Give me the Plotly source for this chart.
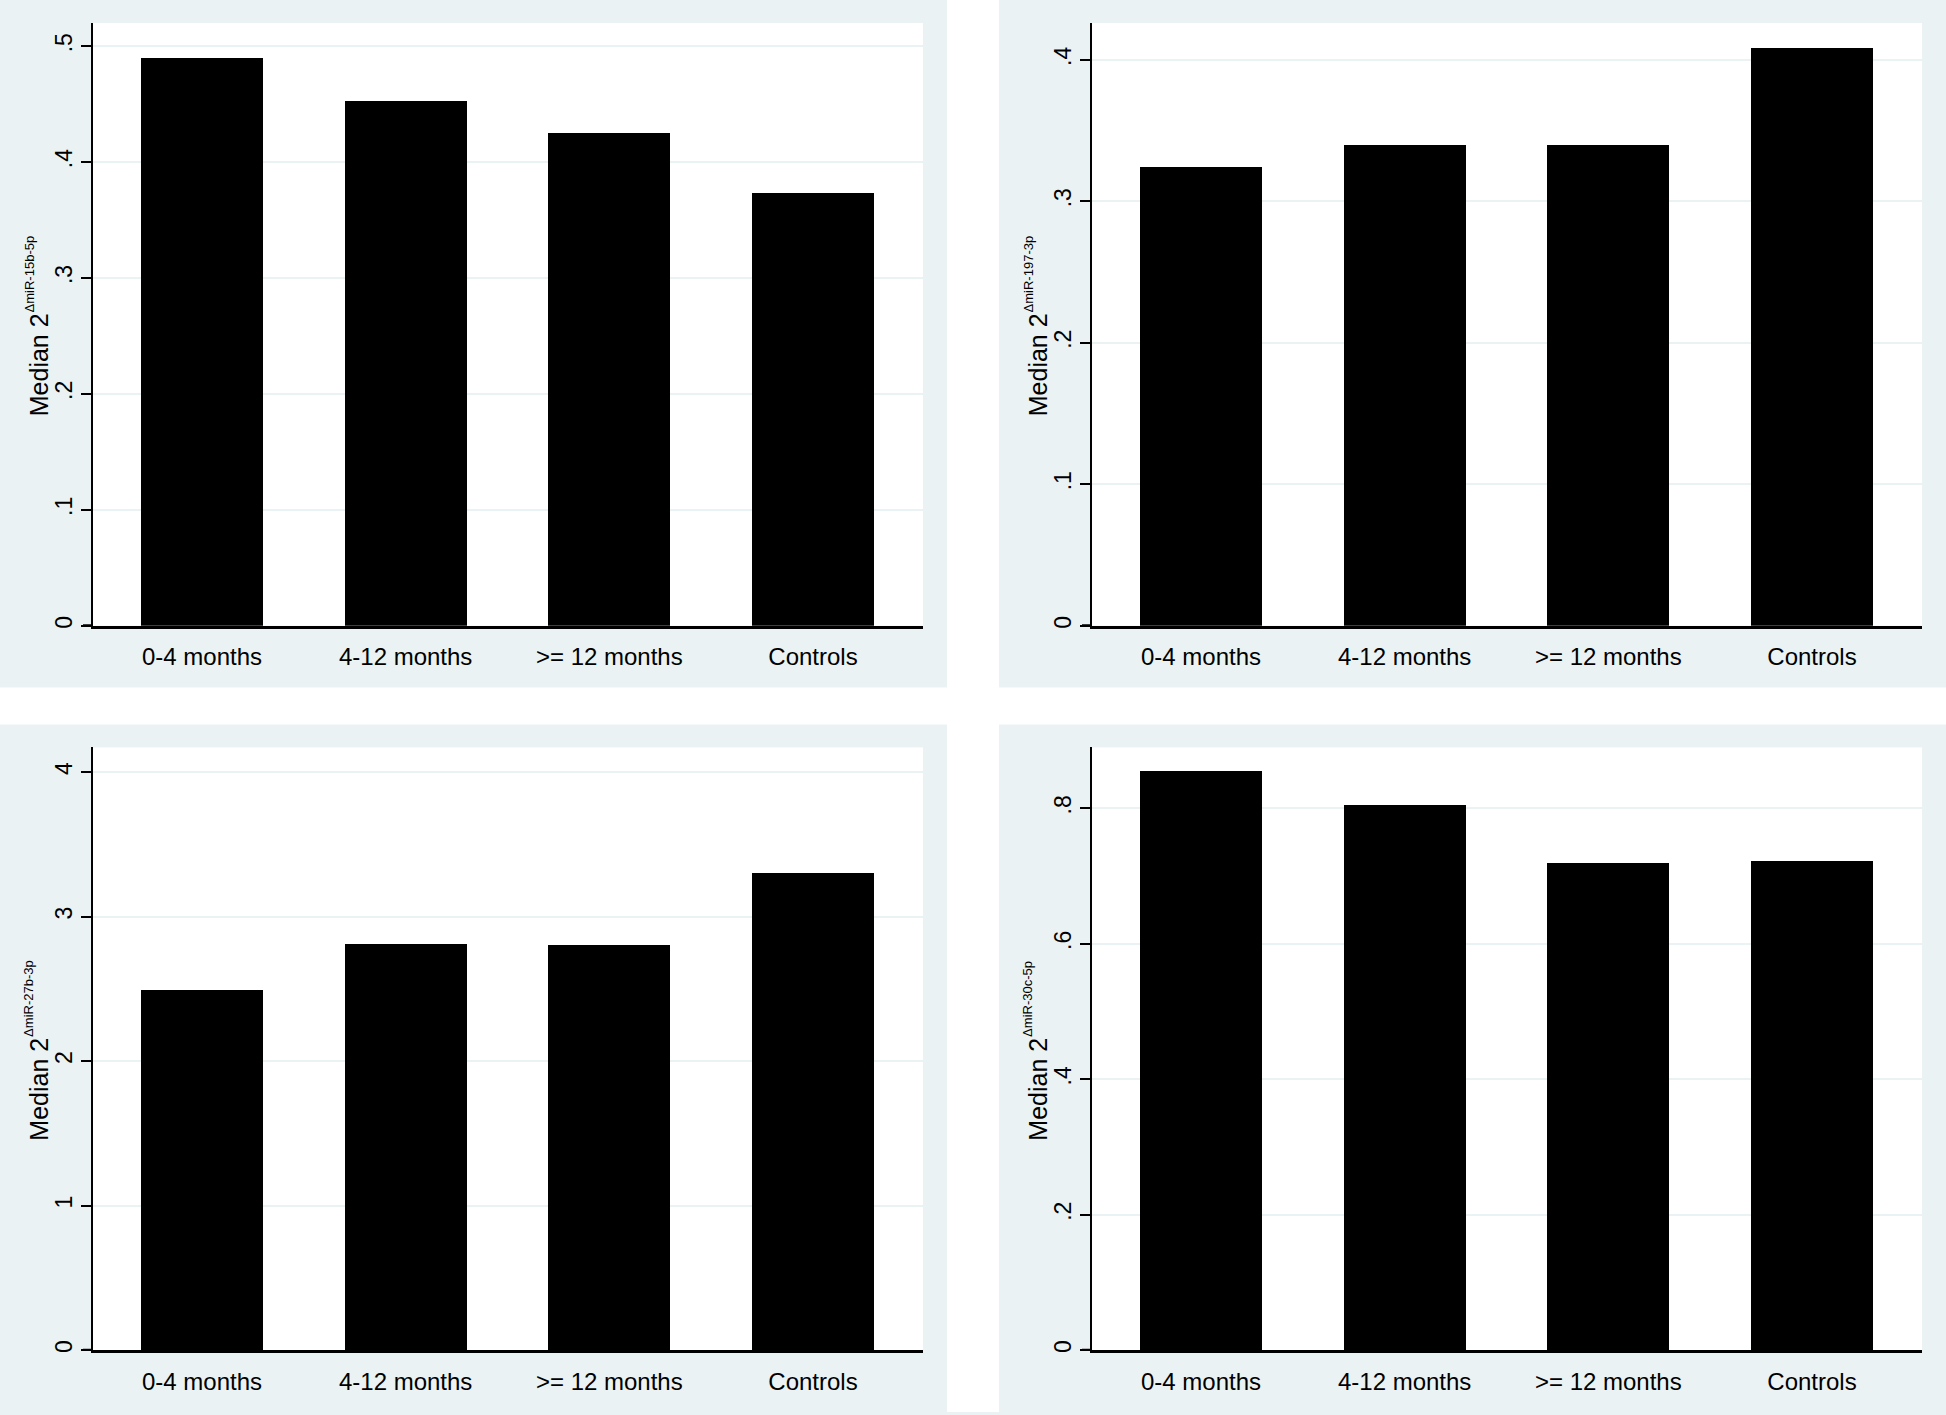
import plotly.graph_objects as go

# ---- data ----
categories = ["0-4 months", "4-12 months", ">= 12 months", "Controls"]
mir15b = [0.490, 0.453, 0.425, 0.373]
mir197 = [0.324, 0.340, 0.340, 0.408]
mir27b = [2.49, 2.81, 2.80, 3.30]
mir30c = [0.855, 0.805, 0.719, 0.721]

mirnames = ["ΔmiR-15b-5p", "ΔmiR-197-3p", "ΔmiR-27b-3p", "ΔmiR-30c-5p"]
series = [mir15b, mir197, mir27b, mir30c]
yranges = [[0, 0.52], [0, 0.426], [0, 4.17], [0, 0.89]]
ytickvals = [[0, 0.1, 0.2, 0.3, 0.4, 0.5],
             [0, 0.1, 0.2, 0.3, 0.4],
             [0, 1, 2, 3, 4],
             [0, 0.2, 0.4, 0.6, 0.8]]
yticktext = [["0", ".1", ".2", ".3", ".4", ".5"],
             ["0", ".1", ".2", ".3", ".4"],
             ["0", "1", "2", "3", "4"],
             ["0", ".2", ".4", ".6", ".8"]]

# ---- layout geometry (pixels) ----
W, H = 1946, 1415
panel_x = [(0, 947), (999, 1946), (0, 947), (999, 1946)]
panel_y = [(0, 689), (0, 689), (726, 1415), (726, 1415)]
PL, PR, PT, PB = 93, 24, 23, 62

BG = "#EAF2F3"
FONT = "Liberation Sans, Arial, Helvetica, sans-serif"

fig = go.Figure()
# white gaps between the panels
shapes = [
    dict(type="rect", xref="paper", yref="paper", x0=947 / W, x1=999 / W, y0=0, y1=1,
         fillcolor="#FFFFFF", line=dict(width=0), layer="below"),
    dict(type="rect", xref="paper", yref="paper", x0=0, x1=1, y0=1 - 726 / H, y1=1 - 689 / H,
         fillcolor="#FFFFFF", line=dict(width=0), layer="below"),
]
annotations = []
xpos = list(range(len(categories)))

for i in range(4):
    px0, px1 = panel_x[i]
    py0, py1 = panel_y[i]
    dx = [(px0 + PL) / W, (px1 - PR) / W]
    dy = [1 - (py1 - PB) / H, 1 - (py0 + PT) / H]
    sfx = "" if i == 0 else str(i + 1)
    fig.add_trace(go.Bar(x=xpos, y=series[i], width=0.6,
                         marker=dict(color="#000000", line=dict(width=0)),
                         xaxis="x" + sfx, yaxis="y" + sfx, showlegend=False))
    fig.layout["xaxis" + sfx] = dict(
        domain=dx, anchor="y" + sfx, range=[-0.535, 3.54],
        tickvals=xpos, ticktext=categories, ticks="", showgrid=False,
        showline=True, linecolor="#000000", linewidth=3, zeroline=False,
        tickfont=dict(family=FONT, size=24, color="#000000"),
        ticklabelstandoff=8, fixedrange=True)
    fig.layout["yaxis" + sfx] = dict(
        domain=dy, anchor="x" + sfx, range=yranges[i],
        tickvals=ytickvals[i], ticktext=yticktext[i],
        ticks="outside", ticklen=10, tickwidth=1.5, tickcolor="#000000",
        tickangle=-90, showline=True, linecolor="#000000", linewidth=1.5,
        showgrid=True, gridcolor=BG, gridwidth=1.5, zeroline=False,
        tickfont=dict(family=FONT, size=23, color="#000000"),
        ticklabelstandoff=0, fixedrange=True)
    # extend the baseline to the end of the zero tick
    shapes.append(dict(type="line", xref="paper", yref="y" + sfx,
                       x0=(px0 + PL - 10) / W, x1=(px0 + PL) / W, y0=0, y1=0,
                       line=dict(color="#000000", width=3)))
    ymid = ((py0 + PT) + (py1 - PB)) / 2
    annotations.append(dict(
        xref="paper", yref="paper", x=(px0 + 39) / W, y=1 - (ymid + 41) / H,
        text="Median 2", textangle=-90, showarrow=False,
        xanchor="center", yanchor="middle",
        font=dict(family=FONT, size=25, color="#000000")))
    annotations.append(dict(
        xref="paper", yref="paper", x=(px0 + 29) / W, y=1 - (ymid - 50) / H,
        text=mirnames[i], textangle=-90, showarrow=False,
        xanchor="center", yanchor="middle",
        font=dict(family=FONT, size=13, color="#000000")))

fig.update_layout(width=W, height=H, margin=dict(l=0, r=0, t=0, b=0),
                  paper_bgcolor=BG, plot_bgcolor="#FFFFFF",
                  shapes=shapes, annotations=annotations, bargap=0)

fig.write_html("out.html", config={"displayModeBar": False},
               post_script="document.body.style.margin='0';document.body.style.padding='0';")
